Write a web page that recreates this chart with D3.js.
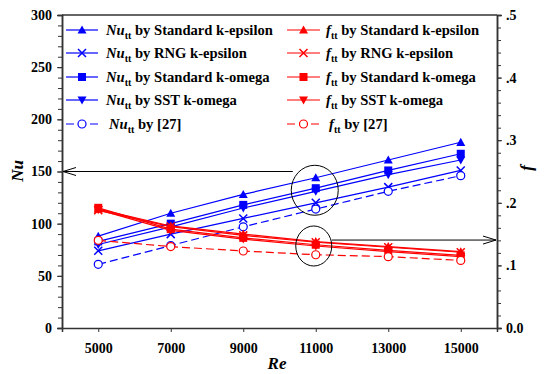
<!DOCTYPE html>
<html><head><meta charset="utf-8">
<script src="https://cdn.jsdelivr.net/npm/d3@7"></script>
<style>
body{margin:0;background:#fff;}
</style></head>
<body><svg id="c" width="544" height="374"></svg>
<script>
const re = [5000, 7000, 9000, 11000, 13000, 15000];
const nuStdKeps = [88, 110, 128, 144, 161, 178];
const nuRngKeps = [74, 90, 105, 120, 135, 151];
const nuStdKomg = [83, 100, 118, 134, 151, 167];
const nuSstKomg = [80, 97, 115, 131, 147, 161];
const nuRef27   = [61, 79, 97, 114, 131, 146];
const fStdKeps = [0.190, 0.163, 0.150, 0.138, 0.130, 0.122];
const fRngKeps = [0.188, 0.162, 0.148, 0.137, 0.129, 0.121];
const fStdKomg = [0.192, 0.158, 0.144, 0.133, 0.124, 0.116];
const fSstKomg = [0.189, 0.156, 0.142, 0.131, 0.122, 0.114];
const fRef27   = [0.140, 0.130, 0.123, 0.117, 0.114, 0.108];
const xTicks = [5000, 7000, 9000, 11000, 13000, 15000];
const nuTicks = [0, 50, 100, 150, 200, 250, 300];
const fTicks = [0, 0.1, 0.2, 0.3, 0.4, 0.5];
const modelNames = ["Standard k-epsilon", "RNG k-epsilon", "Standard k-omega", "SST k-omega", "[27]"];
const markerKinds = ["triUp", "cross", "square", "triDown", "circle"];

const FONT = "Liberation Serif";
const svg = d3.select("#c");
const L = 62, R = 497, T = 15, B = 328;
const x = d3.scaleLinear().domain([4000, 16000]).range([L, R]);
const yN = d3.scaleLinear().domain([0, 300]).range([B, T]);
const yF = d3.scaleLinear().domain([0, 0.5]).range([B, T]);
const BLUE = "#0000ff", RED = "#ff0000", AX = "#333";

svg.append("line").attr("x1", L).attr("x2", R).attr("y1", T).attr("y2", T).attr("stroke", AX).attr("stroke-width", 1.5);

function styleAxis(g) {
  g.attr("font-family", FONT);
  g.select(".domain").attr("stroke", AX).attr("stroke-width", 1.5);
  g.selectAll(".tick line").attr("stroke", AX);
  g.selectAll("text").attr("font-family", FONT).attr("font-weight", "bold").attr("fill", "#000").attr("font-size", 14);
}

const gL = svg.append("g").attr("transform", `translate(${L},0)`);
gL.call(d3.axisLeft(yN).tickValues(d3.range(0, 301, 10)).tickSize(4).tickFormat(""));
styleAxis(gL);
const gL2 = svg.append("g").attr("transform", `translate(${L},0)`);
gL2.call(d3.axisLeft(yN).tickValues(nuTicks).tickSize(5).tickPadding(5));
styleAxis(gL2);

const gR = svg.append("g").attr("transform", `translate(${R},0)`);
gR.call(d3.axisRight(yF).tickValues(d3.range(0, 26).map(i => i * 0.02)).tickSize(4).tickFormat(""));
styleAxis(gR);
const gR2 = svg.append("g").attr("transform", `translate(${R},0)`);
gR2.call(d3.axisRight(yF).tickValues(fTicks).tickSize(5).tickPadding(4)
  .tickFormat(d => d === 0 ? "0.0" : d3.format(".1f")(d).replace(/^0/, "")));
styleAxis(gR2);

const gB = svg.append("g").attr("transform", `translate(0,${B})`);
gB.call(d3.axisBottom(x).tickValues(xTicks).tickSize(4).tickPadding(11).tickFormat(d3.format("d")));
styleAxis(gB);

function txt(xp, yp, s, size, italic, rot) {
  const t = svg.append("text").attr("text-anchor", "middle").attr("font-family", FONT).attr("font-weight", "bold")
    .attr("font-size", size).attr("font-style", italic ? "italic" : null).text(s);
  if (rot) t.attr("transform", `translate(${xp},${yp}) rotate(-90)`); else t.attr("x", xp).attr("y", yp);
  return t;
}
txt(23, 171, "Nu", 17, true, true);
txt(532, 168, "f", 17, true, true);
txt(277, 369, "Re", 17, true, false);

function marker(g, kind, cx, cy, color) {
  const s = 4.5;
  if (kind === "triUp") g.append("path").attr("d", `M${cx},${cy - s}L${cx + s},${cy + s * 0.8}L${cx - s},${cy + s * 0.8}Z`).attr("fill", color);
  else if (kind === "triDown") g.append("path").attr("d", `M${cx},${cy + s}L${cx + s},${cy - s * 0.8}L${cx - s},${cy - s * 0.8}Z`).attr("fill", color);
  else if (kind === "square") g.append("rect").attr("x", cx - 4).attr("y", cy - 4).attr("width", 8).attr("height", 8).attr("fill", color);
  else if (kind === "cross") g.append("path").attr("d", `M${cx - 4},${cy - 4}L${cx + 4},${cy + 4}M${cx - 4},${cy + 4}L${cx + 4},${cy - 4}`).attr("stroke", color).attr("stroke-width", 1.5);
  else if (kind === "circle") g.append("circle").attr("cx", cx).attr("cy", cy).attr("r", 4).attr("fill", "#fff").attr("stroke", color).attr("stroke-width", 1.2);
}

const nuSeries = [nuStdKeps, nuRngKeps, nuStdKomg, nuSstKomg, nuRef27];
const fSeries = [fStdKeps, fRngKeps, fStdKomg, fSstKomg, fRef27];

function drawSeries(data, yS, color, kind, dashed) {
  const g = svg.append("g");
  const line = d3.line().x((d, i) => x(re[i])).y(d => yS(d));
  g.append("path").attr("d", line(data)).attr("fill", "none").attr("stroke", color).attr("stroke-width", 1.2)
    .attr("stroke-dasharray", dashed ? "8,4" : null);
  data.forEach((d, i) => marker(g, kind, x(re[i]), yS(d), color));
}
nuSeries.forEach((s, i) => drawSeries(s, yN, BLUE, markerKinds[i], i === 4));
fSeries.forEach((s, i) => drawSeries(s, yF, RED, markerKinds[i], i === 4));

svg.append("ellipse").attr("cx", x(11000) - 1).attr("cy", yN(132)).attr("rx", 23.5).attr("ry", 25)
  .attr("fill", "none").attr("stroke", "#000").attr("stroke-width", 1);
svg.append("ellipse").attr("cx", x(11000) - 2).attr("cy", yF(0.131)).attr("rx", 18).attr("ry", 20)
  .attr("fill", "none").attr("stroke", "#000").attr("stroke-width", 1);
const ay1 = yN(150), ay2 = yF(0.1405);
svg.append("path").attr("d", `M${x(11000) - 23},${ay1}L${L + 1},${ay1}M${L + 14},${ay1 - 4}L${L + 1},${ay1}L${L + 14},${ay1 + 4}`)
  .attr("fill", "none").attr("stroke", "#000").attr("stroke-width", 1);
svg.append("path").attr("d", `M${x(11000) + 16},${ay2}L${R - 1},${ay2}M${R - 14},${ay2 - 4}L${R - 1},${ay2}L${R - 14},${ay2 + 4}`)
  .attr("fill", "none").attr("stroke", "#000").attr("stroke-width", 1);

const rows = [30, 53, 77, 100, 124];
function legendCol(x0, x1, tx, color, sym) {
  modelNames.forEach((name, i) => {
    const g = svg.append("g");
    const y = rows[i];
    g.append("line").attr("x1", x0).attr("x2", x1).attr("y1", y).attr("y2", y).attr("stroke", color).attr("stroke-width", 1.2)
      .attr("stroke-dasharray", i === 4 ? "8,4" : null);
    marker(g, markerKinds[i], (x0 + x1) / 2, y, color);
    const t = g.append("text").attr("x", tx + (i === 4 ? 3 : 0)).attr("y", y + 5)
      .attr("font-family", FONT).attr("font-weight", "bold").attr("font-size", 14.6);
    t.append("tspan").attr("font-style", "italic").text(sym);
    t.append("tspan").attr("dy", 4).attr("font-size", 10).text("tt");
    t.append("tspan").attr("dy", -4).text(" by " + name);
  });
}
legendCol(66, 98, 106, BLUE, "Nu");
legendCol(287, 320, 326, RED, "f");
</script></body></html>
